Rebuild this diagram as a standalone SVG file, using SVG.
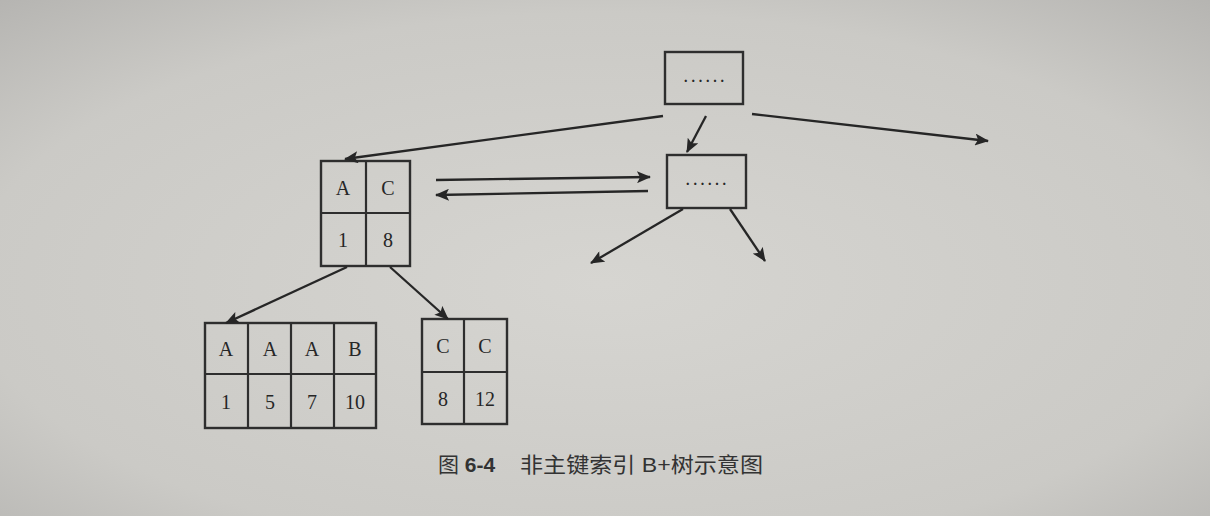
<svg xmlns="http://www.w3.org/2000/svg" width="1210" height="516" viewBox="0 0 1210 516">
<defs>
<radialGradient id="bg" cx="0.5" cy="0.55" r="0.75">
<stop offset="0" stop-color="#d6d5d1"/>
<stop offset="0.7" stop-color="#cbcac6"/>
<stop offset="1" stop-color="#b5b4b1"/>
</radialGradient>
<marker id="ah" viewBox="0 0 14 12" refX="13" refY="6" markerWidth="15" markerHeight="12" markerUnits="userSpaceOnUse" orient="auto">
<path d="M0,0 L14,6 L0,12 L3,6 Z" fill="#262626"/>
</marker>
<style>
.box{fill:none;stroke:#2e2e2e;stroke-width:2.4}
.ln{stroke:#2e2e2e;stroke-width:2.2}
.cell{font-family:"Liberation Serif",serif;font-size:20px;fill:#262626;text-anchor:middle;dominant-baseline:central}
.dots{font-family:"Liberation Serif",serif;font-size:14px;font-weight:bold;letter-spacing:3.8px;fill:#262626;text-anchor:middle}
.conn{stroke:#262626;stroke-width:2.3;fill:none;marker-end:url(#ah)}
.cap{font-family:"Liberation Sans","Noto Sans CJK SC",sans-serif;font-size:21px;fill:#333}
</style>
</defs>
<rect x="0" y="0" width="1210" height="516" fill="url(#bg)"/>

<g id="root">
<rect class="box" x="665" y="52" width="78" height="52"/>
<text class="dots" x="706" y="82">......</text>
</g>

<g id="mid">
<rect class="box" x="667" y="155" width="79" height="53"/>
<text class="dots" x="708" y="185">......</text>
</g>

<g id="inner">
<rect class="box" x="321" y="161" width="89" height="105"/>
<line class="ln" x1="366" y1="161" x2="366" y2="266"/>
<line class="ln" x1="321" y1="213" x2="410" y2="213"/>
<text class="cell" x="343" y="188">A</text>
<text class="cell" x="388" y="188">C</text>
<text class="cell" x="343" y="240">1</text>
<text class="cell" x="388" y="240">8</text>
</g>

<g id="leafLeft">
<rect class="box" x="205" y="323" width="171" height="105"/>
<line class="ln" x1="248" y1="323" x2="248" y2="428"/>
<line class="ln" x1="291" y1="323" x2="291" y2="428"/>
<line class="ln" x1="334" y1="323" x2="334" y2="428"/>
<line class="ln" x1="205" y1="374" x2="376" y2="374"/>
<text class="cell" x="226" y="349">A</text>
<text class="cell" x="270" y="349">A</text>
<text class="cell" x="312" y="349">A</text>
<text class="cell" x="355" y="349">B</text>
<text class="cell" x="226" y="402">1</text>
<text class="cell" x="270" y="402">5</text>
<text class="cell" x="312" y="402">7</text>
<text class="cell" x="355" y="402">10</text>
</g>

<g id="leafRight">
<rect class="box" x="422" y="319" width="85" height="105"/>
<line class="ln" x1="464" y1="319" x2="464" y2="424"/>
<line class="ln" x1="422" y1="372" x2="507" y2="372"/>
<text class="cell" x="443" y="346">C</text>
<text class="cell" x="485" y="346">C</text>
<text class="cell" x="443" y="399">8</text>
<text class="cell" x="485" y="399">12</text>
</g>

<g id="connectors">
<line class="conn" x1="663" y1="116" x2="345" y2="159"/>
<line class="conn" x1="706" y1="116" x2="687" y2="152"/>
<line class="conn" x1="752" y1="114" x2="988" y2="141"/>
<line class="conn" x1="436" y1="180" x2="650" y2="177"/>
<line class="conn" x1="648" y1="191" x2="436" y2="195"/>
<line class="conn" x1="683" y1="209" x2="591" y2="263"/>
<line class="conn" x1="730" y1="209" x2="765" y2="261"/>
<line class="conn" x1="347" y1="267" x2="226" y2="323"/>
<line class="conn" x1="390" y1="267" x2="448" y2="319"/>
</g>

<g id="caption">
<text class="cap" x="438" y="472">图 <tspan font-weight="bold">6-4</tspan></text>
<text class="cap" x="520" y="472" textLength="243" lengthAdjust="spacingAndGlyphs">非主键索引 B+树示意图</text>
</g>
</svg>
